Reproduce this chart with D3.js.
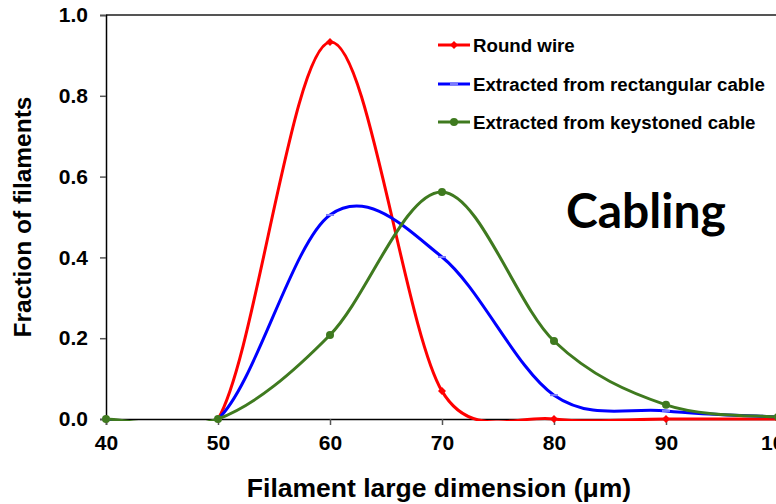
<!DOCTYPE html>
<html><head><meta charset="utf-8">
<script src="https://cdn.jsdelivr.net/npm/d3@7"></script>
<style>body{margin:0;background:#fff;}svg{display:block;}</style>
</head><body>
<svg id="c" width="776" height="504"></svg>
<script>
const xValues = [40, 50, 60, 70, 80, 90, 100];
const roundWire = [0, 0, 0.933, 0.069, 0, 0, 0];
const rectangular = [0, 0, 0.505, 0.401, 0.059, 0.02, 0.005];
const keystoned = [0, 0, 0.208, 0.562, 0.193, 0.035, 0.005];
const xTicks = [40, 50, 60, 70, 80, 90, 100];
const yTicks = [0, 0.2, 0.4, 0.6, 0.8, 1.0];
const seriesNames = ["Round wire", "Extracted from rectangular cable", "Extracted from keystoned cable"];
const seriesColors = ["#ff0000", "#0000ff", "#3f7a1f"];

const svg = d3.select("#c");
const x = d3.scaleLinear().domain([40, 100]).range([106, 778]);
const y = d3.scaleLinear().domain([0, 1]).range([419, 15]);
const font = "Arial, 'Liberation Sans', sans-serif";

svg.append("defs").append("clipPath").attr("id", "plotclip")
  .append("rect").attr("x", x(40) - 5).attr("y", y(1) - 2)
  .attr("width", x(100) - x(40) + 10).attr("height", y(0) - y(1) + 4);

svg.append("line").attr("x1", 106).attr("x2", 790).attr("y1", y(1)).attr("y2", y(1))
  .attr("stroke", "#555").attr("stroke-width", 2);

const yAxis = svg.append("g").attr("transform", "translate(106,0)")
  .call(d3.axisLeft(y).tickValues(yTicks).tickFormat(d3.format(".1f")).tickSize(6).tickPadding(12));
yAxis.select(".domain").attr("stroke", "#000").attr("stroke-width", 1.5);
yAxis.selectAll(".tick line").attr("stroke", "#555").attr("stroke-width", 1.5);
yAxis.selectAll("text").attr("font-family", font).attr("font-weight", "bold").attr("font-size", 21).attr("fill", "#000");

const xAxis = svg.append("g").attr("transform", "translate(0,419)")
  .call(d3.axisBottom(x).tickValues(xTicks).tickSize(6).tickPadding(10));
xAxis.select(".domain").attr("stroke", "#000").attr("stroke-width", 1.5);
xAxis.selectAll(".tick line").attr("stroke", "#555").attr("stroke-width", 1.5);
xAxis.selectAll("text").attr("font-family", font).attr("font-weight", "bold").attr("font-size", 21).attr("fill", "#000");

const allSeries = [roundWire, rectangular, keystoned];

// spreadsheet-style smoothed line: Catmull-Rom Bezier with control offsets capped at half the segment
function smoothPath(vals) {
  const pts = vals.map((v, i) => [x(xValues[i]), y(v)]);
  const p = d3.path();
  p.moveTo(pts[0][0], pts[0][1]);
  const n = pts.length;
  for (let i = 0; i < n - 1; i++) {
    const P0 = pts[Math.max(0, i - 1)], P1 = pts[i], P2 = pts[i + 1], P3 = pts[Math.min(n - 1, i + 2)];
    const d12 = Math.hypot(P2[0] - P1[0], P2[1] - P1[1]);
    const cap = (v) => {
      const len = Math.hypot(v[0], v[1]);
      if (len > d12 / 2 && len > 0) { const s = (d12 / 2) / len; return [v[0] * s, v[1] * s]; }
      return v;
    };
    const v1 = cap([(P2[0] - P0[0]) / 6, (P2[1] - P0[1]) / 6]);
    const v2 = cap([(P3[0] - P1[0]) / 6, (P3[1] - P1[1]) / 6]);
    p.bezierCurveTo(P1[0] + v1[0], P1[1] + v1[1], P2[0] - v2[0], P2[1] - v2[1], P2[0], P2[1]);
  }
  return p.toString();
}

const lg = svg.append("g").attr("clip-path", "url(#plotclip)");
allSeries.forEach((s, k) => {
  lg.append("path").attr("d", smoothPath(s)).attr("fill", "none")
    .attr("stroke", seriesColors[k]).attr("stroke-width", 3);
});

function marker(g, k, cx, cy) {
  if (k === 0) {
    g.append("path").attr("d", `M${cx},${cy-4}L${cx+4},${cy}L${cx},${cy+4}L${cx-4},${cy}Z`).attr("fill", seriesColors[0]);
  } else if (k === 1) {
    g.append("rect").attr("x", cx - 4).attr("y", cy - 1).attr("width", 8).attr("height", 2).attr("fill", "#7a7aff");
  } else {
    g.append("circle").attr("cx", cx).attr("cy", cy).attr("r", 4).attr("fill", seriesColors[2]);
  }
}
const mg = svg.append("g");
allSeries.forEach((s, k) => {
  s.forEach((v, i) => marker(mg, k, x(xValues[i]), y(v)));
});

const legendY = [45, 84, 122];
seriesNames.forEach((n, k) => {
  const g = svg.append("g");
  g.append("line").attr("x1", 438).attr("x2", 470).attr("y1", legendY[k]).attr("y2", legendY[k])
    .attr("stroke", seriesColors[k]).attr("stroke-width", 3);
  marker(g, k, 454, legendY[k]);
  g.append("text").attr("x", 473).attr("y", legendY[k] + 6.5).text(n)
    .attr("font-family", font).attr("font-weight", "bold").attr("font-size", 18.7).attr("fill", "#000");
});

svg.append("text").attr("transform", "translate(31,217) rotate(-90)").attr("text-anchor", "middle")
  .attr("font-family", font).attr("font-weight", "bold").attr("font-size", 24.5).text("Fraction of filaments");
svg.append("text").attr("x", 439).attr("y", 497).attr("text-anchor", "middle")
  .attr("font-family", font).attr("font-weight", "bold").attr("font-size", 26.5).text("Filament large dimension (μm)");

svg.append("text").attr("x", 566).attr("y", 228)
  .attr("font-family", "Lato, 'Open Sans', sans-serif").attr("font-weight", "bold").attr("font-size", 48).text("Cabling");
</script>
</body></html>
